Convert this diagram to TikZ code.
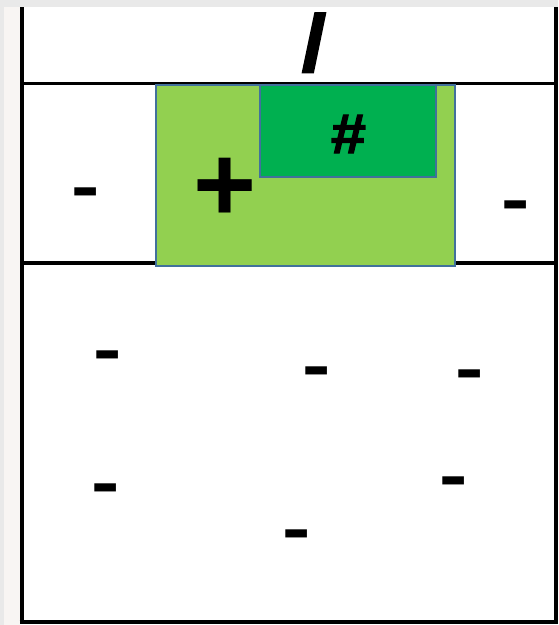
\documentclass[tikz,border=0pt]{standalone}
\usepackage{fontspec}
\setmainfont{Liberation Sans}
\newfontfamily\heavysans{Liberation Sans Bold}[FakeBold=2]
\definecolor{lgreen}{HTML}{92D050}
\definecolor{dgreen}{HTML}{00B050}
\definecolor{rimblue}{HTML}{41719C}
\definecolor{bggray}{HTML}{E9E9E9}
\definecolor{sidegray}{HTML}{F8F5F3}
\begin{document}
\begin{tikzpicture}[x=1pt,y=-1pt,
  frameline/.style={line width=4pt,black},
  rowline/.style={line width=3.5pt,black},
  greenbox/.style={draw=rimblue,line width=1.5pt},
  dashmark/.style={font=\fontsize{68}{68}\selectfont\bfseries,inner sep=0pt,anchor=base,xscale=1.25},
  bigsign/.style={inner sep=0pt,anchor=base}]
\useasboundingbox (0,0) rectangle (558,625);
\fill[bggray] (0,0) rectangle (558,625);
\fill[sidegray] (4,7) rectangle (20,625);
\fill[white] (20,7) rectangle (558,625);
% frame
\coordinate (tl) at (21.7,7);
\coordinate (bl) at (21.7,621.5);
\coordinate (tr) at (556,7);
\coordinate (br) at (556,621.5);
\draw[frameline] (tl) -- (bl);
\draw[frameline] (tr) -- (br);
\draw[frameline] (19.7,621.5) -- (558,621.5);
\coordinate (r1l) at (21.7,83.5);
\coordinate (r1r) at (556,83.5);
\coordinate (r2l) at (21.7,263);
\coordinate (r2r) at (556,263);
\draw[rowline] (r1l) -- (r1r);
\draw[rowline] (r2l) -- (r2r);
% green boxes
\path[greenbox,fill=lgreen] (156,85) rectangle (455,266);
\path[greenbox,fill=dgreen] (260,85) rectangle (436,177);
% signs
\node[bigsign,font=\fontsize{80}{80}\selectfont\heavysans,xscale=1.1] (slash) at (314,71) {/};
\node[bigsign,font=\fontsize{56}{56}\selectfont\heavysans,xscale=1.12] (hash) at (348.5,153) {\#};
\node[bigsign,font=\fontsize{108}{108}\selectfont\bfseries] (plus) at (225,221) {+};
% dashes
\node[dashmark] (d1) at (85.5,209) {-};
\node[dashmark] (d2) at (515.5,222) {-};
\node[dashmark] (d3) at (107.5,372) {-};
\node[dashmark] (d4) at (316.5,388) {-};
\node[dashmark] (d5) at (469.5,391) {-};
\node[dashmark] (d6) at (105.5,505) {-};
\node[dashmark] (d7) at (296.5,551) {-};
\node[dashmark] (d8) at (453.5,498) {-};
\end{tikzpicture}
\end{document}
